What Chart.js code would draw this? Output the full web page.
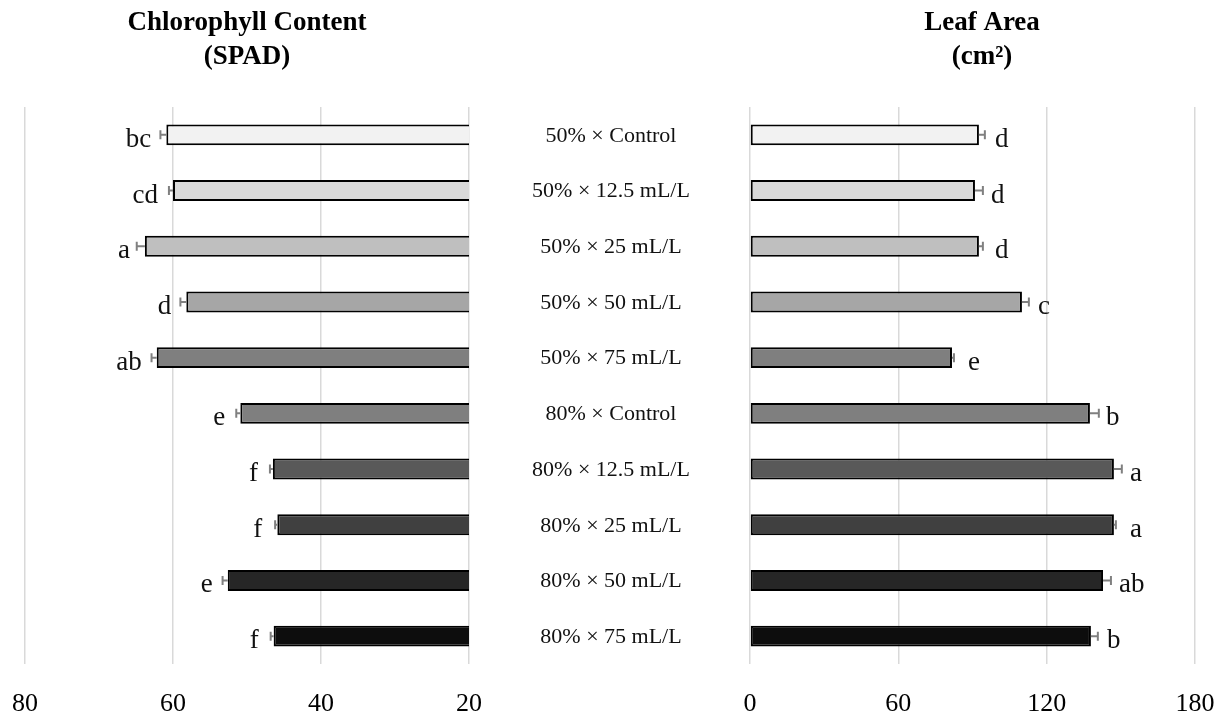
<!DOCTYPE html>
<html>
<head>
<meta charset="utf-8">
<title>Chlorophyll content and leaf area</title>
<script src="https://cdn.jsdelivr.net/npm/chart.js@4.4.1/dist/chart.umd.min.js"></script>
<style>
  html, body { margin: 0; padding: 0; background: #fff; }
  #wrap { position: relative; width: 1222px; height: 717px; }
  #wrap canvas { position: absolute; left: 0; top: 0; }
</style>
</head>
<body>
<div id="wrap">
  <canvas id="spadChart" width="1222" height="717"></canvas>
  <canvas id="areaChart" width="1222" height="717"></canvas>
</div>
<script>
// ---- data ----
const treatments = [
  "50% \u00d7 Control", "50% \u00d7 12.5 mL/L", "50% \u00d7 25 mL/L", "50% \u00d7 50 mL/L", "50% \u00d7 75 mL/L",
  "80% \u00d7 Control", "80% \u00d7 12.5 mL/L", "80% \u00d7 25 mL/L", "80% \u00d7 50 mL/L", "80% \u00d7 75 mL/L"
];

const spadValues  = [60.9, 60.0, 63.8, 58.2, 62.2, 50.9, 46.5, 45.9, 52.6, 46.4];
const spadErrors  = [0.8, 0.55, 1.1, 0.8, 0.7, 0.55, 0.4, 0.3, 0.7, 0.4];
const spadLetters = ["bc", "cd", "a", "d", "ab", "e", "f", "f", "e", "f"];
const spadTicks   = [20, 40, 60, 80];

const areaValues  = [92.6, 91.0, 92.6, 110.0, 81.7, 137.5, 147.2, 147.2, 142.8, 137.9];
const areaErrors  = [2.4, 3.2, 1.6, 2.8, 0.8, 3.6, 3.2, 0.8, 3.2, 2.8];
const areaLetters = ["d", "d", "d", "c", "e", "b", "a", "a", "ab", "b"];
const areaTicks   = [0, 60, 120, 180];

const barColors = [
  "#f2f2f2", "#d9d9d9", "#bfbfbf", "#a6a6a6", "#7f7f7f",
  "#7f7f7f", "#595959", "#404040", "#262626", "#0d0d0d"
];

// ---- shared look ----
const SERIF = "'Liberation Serif', 'DejaVu Serif', serif";
Chart.defaults.font.family = SERIF;
Chart.defaults.color = "#000";

// draws the outward whisker and the significance letter at the end of every bar
function barExtrasPlugin(errors, letters, side) {
  return {
    id: "barExtras",
    afterDatasetsDraw(chart) {
      const ctx = chart.ctx;
      const xs = chart.scales.x;
      const meta = chart.getDatasetMeta(0);
      const values = chart.data.datasets[0].data;
      ctx.save();
      meta.data.forEach((bar, i) => {
        const y = bar.y;
        const end = xs.getPixelForValue(values[i]);
        const hi = xs.getPixelForValue(values[i] + errors[i]);
        ctx.strokeStyle = "#808080";
        ctx.lineWidth = 2;
        ctx.beginPath();
        ctx.moveTo(end, y); ctx.lineTo(hi, y);
        ctx.moveTo(hi, y - 4.5); ctx.lineTo(hi, y + 4.5);
        ctx.stroke();

        ctx.fillStyle = "#111";
        ctx.font = "27px " + SERIF;
        ctx.textBaseline = "alphabetic";
        if (side === "left") {
          ctx.textAlign = "right";
          ctx.fillText(letters[i], bar.x - 15, y + 12);
        } else {
          ctx.textAlign = "left";
          ctx.fillText(letters[i], bar.x + 16, y + 12);
        }
      });
      ctx.restore();
    }
  };
}

// treatment names sit in the gap between the two panels
const treatmentLabels = {
  id: "treatmentLabels",
  afterDraw(chart) {
    const ctx = chart.ctx;
    const ys = chart.scales.y;
    ctx.save();
    ctx.fillStyle = "#111";
    ctx.font = "22px " + SERIF;
    ctx.textAlign = "center";
    ctx.textBaseline = "middle";
    treatments.forEach((t, i) => {
      ctx.fillText(t, 611, ys.getPixelForValue(i) + 1);
    });
    ctx.restore();
  }
};

function panelOptions(title, ticks, range, padding, reverse, edgeRight) {
  return {
    indexAxis: "y",
    responsive: false,
    animation: false,
    layout: { padding: padding },
    plugins: {
      legend: { display: false },
      tooltip: { enabled: false },
      title: {
        display: true,
        text: title,
        font: { size: 27, weight: "bold", family: SERIF, lineHeight: 1.25 },
        color: "#000",
        padding: { top: 6, bottom: 33.5 }
      }
    },
    scales: {
      x: {
        type: "linear",
        min: range[0],
        max: range[1],
        reverse: reverse,
        border: { display: false },
        grid: { color: "#d9d9d9", lineWidth: 1.5, drawTicks: false },
        afterBuildTicks: (scale) => { scale.ticks = ticks.map(v => ({ value: v })); },
        afterFit: (scale) => {
          scale.height = 53;
          // keep the end label overhang from pushing the plot inwards
          if (edgeRight !== undefined) scale.paddingRight = edgeRight;
        },
        ticks: { font: { size: 26 }, color: "#000", padding: 25, maxRotation: 0 }
      },
      y: { display: false }
    }
  };
}

function panelData(values) {
  return {
    labels: treatments,
    datasets: [{
      data: values,
      backgroundColor: barColors,
      borderColor: "#000",
      borderWidth: 2,
      borderSkipped: false,
      barPercentage: 0.375,
      categoryPercentage: 1
    }]
  };
}

new Chart(document.getElementById("spadChart"), {
  type: "bar",
  data: panelData(spadValues),
  options: panelOptions(["Chlorophyll Content", "(SPAD)"], spadTicks, [20, 80],
    { left: 25, right: 753, top: 0, bottom: 0 }, true),
  plugins: [barExtrasPlugin(spadErrors, spadLetters, "left")]
});

new Chart(document.getElementById("areaChart"), {
  type: "bar",
  data: panelData(areaValues),
  options: panelOptions(["Leaf Area", "(cm\u00b2)"], areaTicks, [0, 180],
    { left: 750, right: 8, top: 0, bottom: 0 }, false, 27),
  plugins: [barExtrasPlugin(areaErrors, areaLetters, "right"), treatmentLabels]
});
</script>
</body>
</html>
